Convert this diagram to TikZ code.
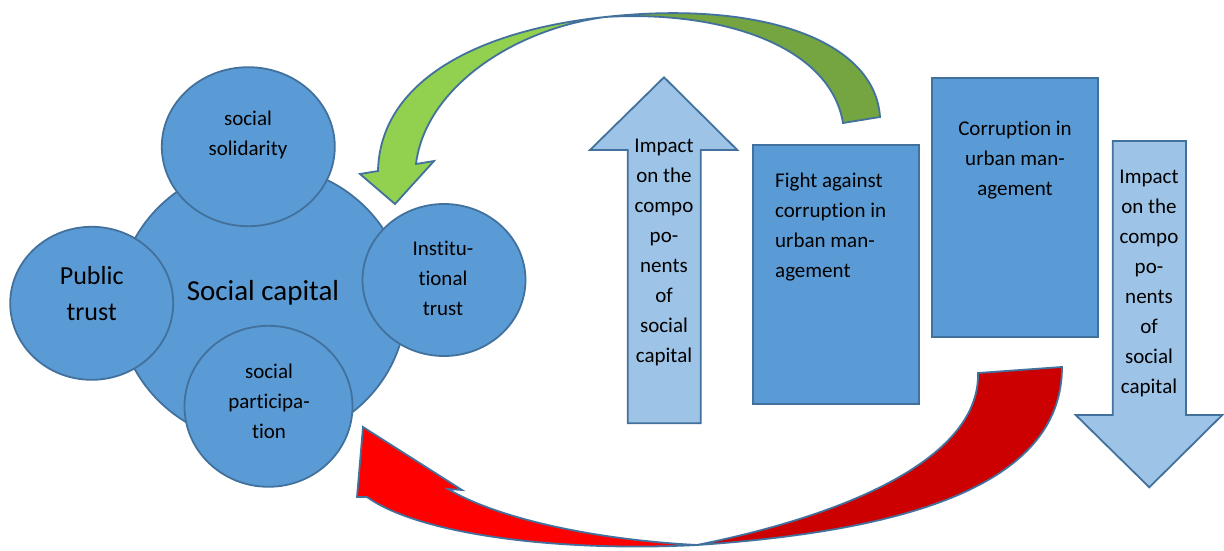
\documentclass[tikz,border=0pt]{standalone}
\usepackage{fontspec}
\setmainfont{Carlito}[Ligatures={NoCommon}, RawFeature={-liga}]
\usetikzlibrary{shapes.geometric}
\definecolor{bluec}{HTML}{5B9BD5}
\definecolor{bordc}{HTML}{41719C}
\definecolor{lightc}{HTML}{9DC3E6}
\definecolor{greenL}{HTML}{92D050}
\definecolor{greenD}{HTML}{75A541}
\definecolor{redL}{HTML}{FF0000}
\definecolor{redD}{HTML}{CC0000}
\begin{document}
\begin{tikzpicture}[x=1pt,y=-1pt,
  blob/.style={ellipse, draw=bordc, fill=bluec, line width=1.8pt, inner sep=0pt},
  boxc/.style={rectangle, draw=bordc, fill=bluec, line width=1.8pt, inner sep=0pt},
  shapeline/.style={draw=bordc, line width=1.8pt, line join=miter},
  small/.style={font=\fontsize{21}{30}\selectfont, align=center, inner sep=0pt, text=black},
]
\useasboundingbox (0,0) rectangle (1224,551);

% circles
\node[blob, minimum width=288pt, minimum height=278pt] (cap) at (262,304) {};
\node[blob, minimum width=173pt, minimum height=159pt] (sol) at (248.3,146.7) {};
\node[blob, minimum width=163pt, minimum height=153pt] (pub) at (91.7,303.3) {};
\node[blob, minimum width=163pt, minimum height=152pt] (ins) at (444,280) {};
\node[blob, minimum width=168pt, minimum height=161pt] (par) at (268.5,406.3) {};

\node[small] (tsol) at (248,135) {social\\solidarity};
\node[font=\fontsize{26}{36.7}\selectfont, align=center, inner sep=0pt] (tpub) at (91.7,293.5) {Public\\trust};
\node[font=\fontsize{29}{35}\selectfont, inner sep=0pt] (tcap) at (263,292.5) {Social capital};
\node[small] (tins) at (443,278) {Institu-\\tional\\trust};
\node[small] (tpar) at (269,401.5) {social\\participa-\\tion};

% up arrow
\path[shapeline, fill=lightc] (664,77.3) -- (737.3,150) -- (700.7,150) -- (700.7,423.3)
  -- (627.7,423.3) -- (627.7,150) -- (590,150) -- cycle;
\node[small] (tup) at (664,252) {Impact\\on the\\compo\\po-\\nents\\of\\social\\capital};

% boxes
\node[boxc, minimum width=165.7pt, minimum height=259pt] (fight) at (836.2,274.5) {};
\node[small, align=left, anchor=west] (tfight) at (775,227.5) {Fight against\\corruption in\\urban man-\\agement};
\node[boxc, minimum width=166pt, minimum height=259pt] (corr) at (1015.3,207.2) {};
\node[small] (tcorr) at (1015,160.3) {Corruption in\\urban man-\\agement};

% down arrow
\path[shapeline, fill=lightc] (1112.7,141) -- (1186,141) -- (1186,415) -- (1222.3,415)
  -- (1149.3,487.3) -- (1075.7,415) -- (1112.7,415) -- cycle;
\node[small] (tdown) at (1149,283) {Impact\\on the\\compo\\po-\\nents\\of\\social\\capital};

% green curved arrow
\path[shapeline, fill=greenD] (605,17) .. controls (760,0) and (875,40) .. (880,117)
  -- (843,123) .. controls (830,45) and (720,10) .. (605,17) -- cycle;
\path[shapeline, fill=greenL] (605,17) .. controls (480,30) and (380,80) .. (378,171)
  -- (360,174) -- (395,204) -- (434,161) -- (416,164)
  .. controls (425,90) and (510,30) .. (605,17) -- cycle;

% red curved arrow
\path[shapeline, fill=redD] (697,545) .. controls (920,530) and (1062,480) .. (1062,367)
  -- (978,373) .. controls (980,450) and (870,510) .. (697,545) -- cycle;
\path[shapeline, fill=redL] (697,545) .. controls (600,540) and (500,520) .. (448,489)
  -- (462,490) -- (363,427) -- (357,497) -- (367,497)
  .. controls (420,535) and (560,552) .. (697,545) -- cycle;
\end{tikzpicture}
\end{document}
